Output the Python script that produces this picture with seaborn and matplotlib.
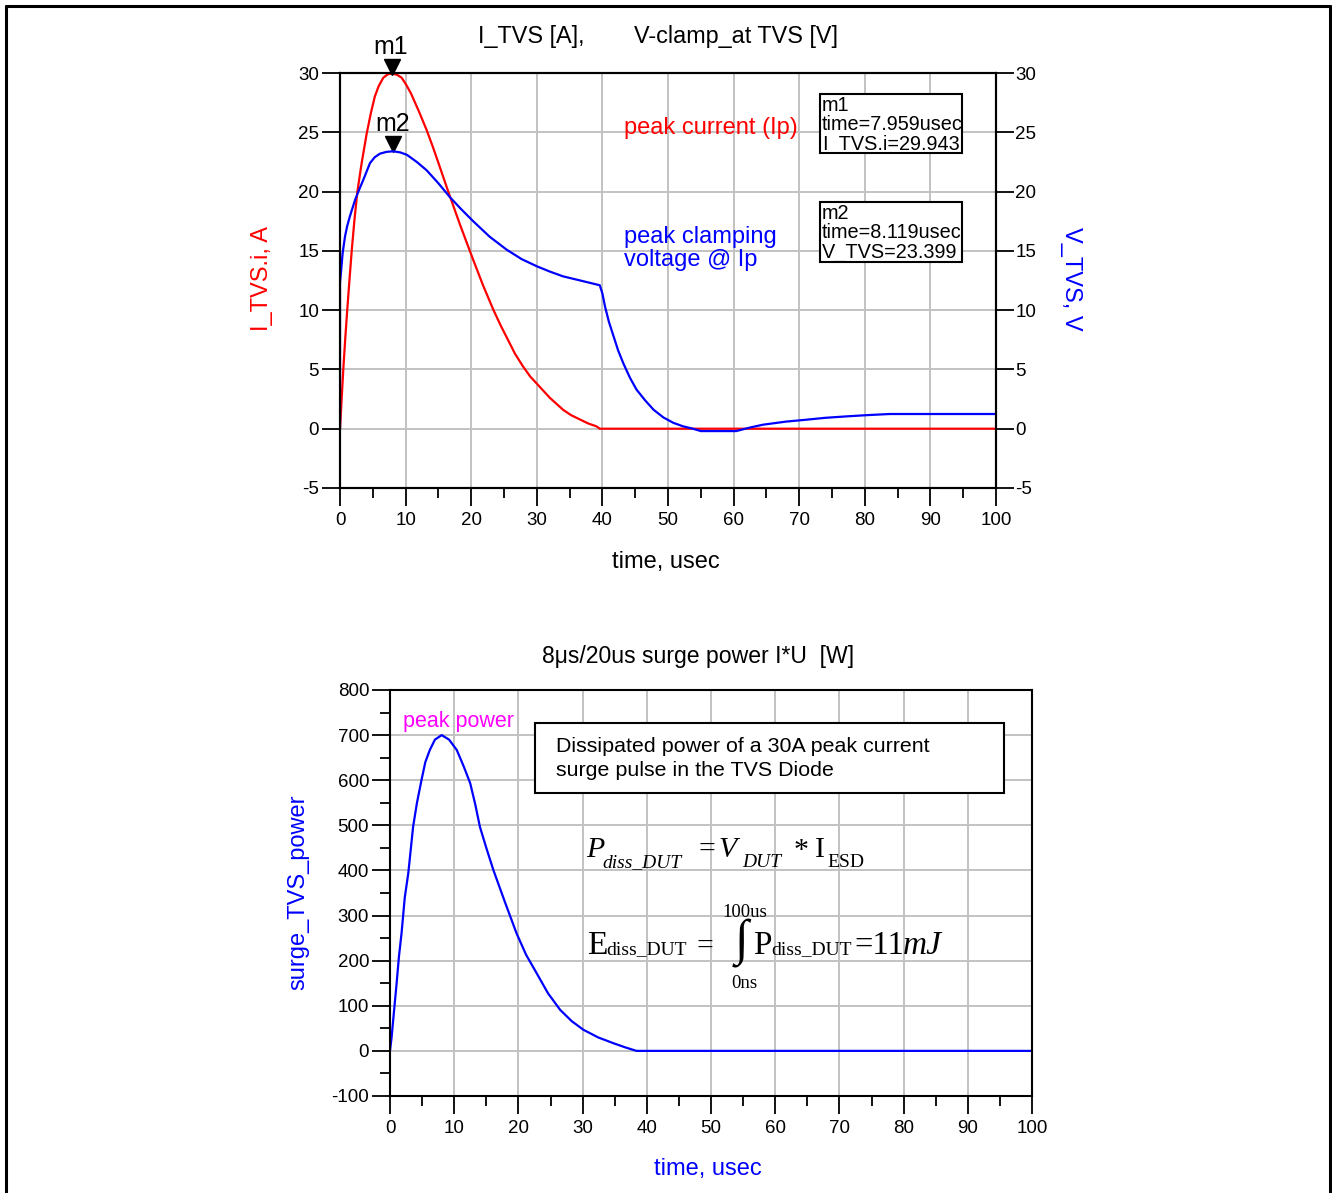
import pandas as pd
import seaborn as sns
import matplotlib.pyplot as plt
from matplotlib.patches import Rectangle
from matplotlib.lines import Line2D
from matplotlib.ticker import MultipleLocator
from matplotlib.transforms import offset_copy

# Current through the TVS diode (A)
t_current = [0, 0.25, 0.5, 0.8, 1.1, 1.45, 1.8, 2.2, 2.65, 3.3, 4.07, 4.7, 5.3, 5.9, 6.6,
             7.3, 7.959, 8.7, 9.4, 10.1, 10.8, 12.0, 13.2, 14.2, 15.2, 16.5, 18.3, 20.3,
             21.8, 23.4, 24.5, 25.6, 26.7, 27.9, 29.0, 30.0, 31.0, 32.0, 33.0, 34.0, 35.2,
             36.5, 37.8, 39.1, 39.6, 100]
current = [0, 2.5, 5.0, 7.6, 10.0, 12.6, 15.1, 17.6, 20.0, 22.4, 24.9, 26.6, 28.0, 28.9, 29.6,
           29.9, 29.943, 29.85, 29.6, 29.0, 28.3, 26.8, 25.2, 23.7, 22.1, 20.0, 17.2, 14.25,
           12.1, 10.0, 8.7, 7.5, 6.3, 5.25, 4.4, 3.8, 3.2, 2.6, 2.1, 1.6, 1.15,
           0.8, 0.45, 0.2, 0, 0]

# Clamping voltage across the TVS diode (V)
t_voltage = [0, 0, 0.15, 0.4, 0.76, 1.1, 1.5, 1.9, 2.3, 2.8, 3.56, 4.57, 5.3, 6.1, 7.1, 8.119,
             9.2, 10.2, 11.7, 13.2, 15.0, 16.8, 18.5, 20.3, 22.8, 25.4, 27.7, 30.0, 32.0,
             34.0, 37.0, 39.6, 40.0, 40.4, 41.0, 41.7, 42.4, 43.2, 44.2, 45.2, 46.5, 47.8,
             49.3, 50.8, 52.3, 53.8, 55.0, 60.4, 62.5, 64.5, 68.0, 71.1, 74.0, 77.2, 80.5,
             83.8, 100]
voltage = [0, 12.3, 13.2, 14.8, 16.2, 17.1, 17.9, 18.6, 19.3, 20.0, 21.0, 22.4, 22.9, 23.2, 23.35, 23.399,
           23.3, 23.1, 22.5, 21.8, 20.7, 19.5, 18.5, 17.5, 16.2, 15.1, 14.3, 13.7, 13.25,
           12.85, 12.45, 12.1, 11.4, 10.3, 9.0, 7.8, 6.6, 5.5, 4.3, 3.3, 2.4, 1.6,
           0.95, 0.5, 0.2, 0.0, -0.2, -0.2, 0.1, 0.34, 0.6, 0.76, 0.92, 1.04, 1.15,
           1.24, 1.24]

# Surge power I*U (W)
t_power = [0, 0.25, 0.5, 1.0, 1.4, 1.8, 2.3, 2.85, 3.6, 4.2, 4.9, 5.5, 6.2, 7.0, 8.05, 9.2,
           10.4, 11.5, 12.5, 13.3, 14.0, 15.0, 16.1, 17.9, 19.7, 21.2, 22.85, 24.6, 26.5,
           28.3, 30.1, 32.4, 34.8, 36.6, 38.4, 100]
power = [0, 30, 69, 145, 210, 261, 340, 394, 497, 550, 600, 640, 667, 690, 700, 690,
         667, 630, 593, 545, 497, 450, 401, 330, 261, 213, 172, 128, 91,
         66, 47, 30, 17, 8, 0, 0]

# marker readouts
m1_time, m1_value = 7.959, 29.943
m2_time, m2_value = 8.119, 23.399

df_i = pd.DataFrame({"time": t_current, "I_TVS.i": current})
df_v = pd.DataFrame({"time": t_voltage, "V_TVS": voltage})
df_p = pd.DataFrame({"time": t_power, "surge_TVS_power": power})

sns.set_style("white")
plt.rcParams['font.family'] = ['Liberation Sans', 'DejaVu Sans']
plt.rcParams['text.color'] = 'black'
plt.rcParams['axes.labelcolor'] = 'black'
plt.rcParams['axes.unicode_minus'] = False

W, H = 1332, 1193
fig = plt.figure(figsize=(W / 100, H / 100), dpi=100)


def ftext(x, y, s, **kw):
    # place text by pixel position of the reference image
    return fig.text(x / W, 1 - y / H, s, **kw)


def style_axis(ax):
    for s in ax.spines.values():
        s.set_visible(True)
        s.set_color('black')
        s.set_linewidth(1.5)
    ax.tick_params(which='major', direction='out', length=13, width=1.3,
                   color='black', labelsize=13.5, labelcolor='black', pad=2)
    ax.tick_params(which='minor', direction='out', length=7, width=1.3, color='black')


grid_kw = dict(color='#c2c2c2', linewidth=1.4)

# ---------------- top chart: current and voltage ----------------
ax1 = fig.add_axes([340 / W, 1 - 488 / H, 656 / W, 415 / H])
ax2 = ax1.twinx()

sns.lineplot(data=df_i, x="time", y="I_TVS.i", ax=ax1, color='red', linewidth=1.6,
             sort=False, estimator=None)
sns.lineplot(data=df_v, x="time", y="V_TVS", ax=ax2, color='blue', linewidth=1.6,
             sort=False, estimator=None)

for ax in (ax1, ax2):
    ax.set_xlim(0, 100)
    ax.set_ylim(-5, 30)
    ax.set_yticks(range(-5, 31, 5))
    style_axis(ax)
ax1.set_xticks(range(0, 101, 10))
ax1.xaxis.set_minor_locator(MultipleLocator(5))
ax1.tick_params(axis='x', which='both', bottom=True, top=False, pad=4)
ax1.tick_params(axis='y', left=True, right=False)
ax2.tick_params(axis='y', right=True, left=False, pad=1)
ax1.grid(True, which='major', **grid_kw)
ax1.set_axisbelow(True)

ax1.set_xlabel('time, usec', fontsize=17)
ax1.xaxis.label.set_va('center')
ax1.xaxis.set_label_coords(0.497, -0.178)
ax1.set_ylabel('I_TVS.i, A', fontsize=17, color='red')
ax1.yaxis.label.set_va('center')
ax1.yaxis.set_label_coords(-0.119, 0.505)
ax2.set_ylabel('V_TVS, V', fontsize=17, color='blue', rotation=270)
ax2.yaxis.label.set_va('center')
ax2.yaxis.set_label_coords(1.114, 0.505)

ftext(478, 37, 'I_TVS [A],', fontsize=16.8, va='center')
ftext(634, 37, 'V-clamp_at TVS [V]', fontsize=16.8, va='center')

ax1.text(43.3, 25.4, 'peak current (Ip)', color='red', fontsize=17, va='center')
ax1.text(43.3, 16.2, 'peak clamping', color='blue', fontsize=17, va='center')
ax1.text(43.3, 14.2, 'voltage @ Ip', color='blue', fontsize=17, va='center')

# markers m1 / m2
tri = offset_copy(ax1.transData, fig=fig, y=7, units='dots')
ax1.plot([m1_time], [m1_value], marker='v', ms=11, color='black', ls='none',
         transform=tri, clip_on=False, zorder=5)
ax1.plot([m2_time], [m2_value], marker='v', ms=11, color='black', ls='none',
         transform=tri, clip_on=False, zorder=5)
ftext(391, 47, 'm1', fontsize=18, ha='center', va='center')
ftext(393, 124, 'm2', fontsize=18, ha='center', va='center')

for label, y0, y1, name, tval, yval in [
        ('m1', 94, 153, 'I_TVS.i', m1_time, m1_value),
        ('m2', 202, 262, 'V_TVS', m2_time, m2_value)]:
    bx0 = (820 - 340) / 6.56
    bx1 = (962 - 340) / 6.56
    by1 = (429 - y0) / 11.86
    by0 = (429 - y1) / 11.86
    rect = Rectangle((bx0, by0), bx1 - bx0, by1 - by0, facecolor='white',
                     edgecolor='black', linewidth=1.5, zorder=6)
    ax2.add_patch(rect)
    t = ax2.text(bx0 + 0.25, by1 - 0.15,
                 f'{label}\ntime={tval:.3f}usec\n{name}={yval:.3f}',
                 fontsize=14.3, va='top', ha='left', linespacing=1.03,
                 zorder=7, clip_on=True)
    t.set_clip_path(rect)

# ---------------- bottom chart: power ----------------
ax3 = fig.add_axes([390 / W, 1 - 1096 / H, 642 / W, 406 / H])
sns.lineplot(data=df_p, x="time", y="surge_TVS_power", ax=ax3, color='blue',
             linewidth=1.6, sort=False, estimator=None)
ax3.set_xlim(0, 100)
ax3.set_ylim(-100, 800)
ax3.set_xticks(range(0, 101, 10))
ax3.set_yticks(range(-100, 801, 100))
ax3.xaxis.set_minor_locator(MultipleLocator(5))
ax3.yaxis.set_minor_locator(MultipleLocator(50))
style_axis(ax3)
ax3.tick_params(axis='x', which='both', bottom=True, top=False, pad=4)
ax3.tick_params(axis='y', which='both', left=True, right=False)
ax3.grid(True, which='major', **grid_kw)
ax3.set_axisbelow(True)

ax3.set_xlabel('time, usec', fontsize=17, color='blue')
ax3.xaxis.label.set_va('center')
ax3.xaxis.set_label_coords(0.495, -0.18)
ax3.set_ylabel('surge_TVS_power', fontsize=17, color='blue')
ax3.yaxis.label.set_va('center')
ax3.yaxis.set_label_coords(-0.143, 0.502)

ftext(698, 656, '8μs/20us surge power I*U  [W]', fontsize=16.6, ha='center', va='center')
ax3.text(2.0, 731, 'peak power', color='#ff00ff', fontsize=15.5, va='center')

bx0, bx1 = (535 - 390) / 6.42, (1004 - 390) / 6.42
by0, by1 = (1051 - 793) / 0.45125, (1051 - 723) / 0.45125
ax3.add_patch(Rectangle((bx0, by0), bx1 - bx0, by1 - by0, facecolor='white',
                        edgecolor='black', linewidth=1.5, zorder=6))
ftext(556, 747, 'Dissipated power of a 30A peak current', fontsize=15.4, va='center', zorder=7)
ftext(556, 771, 'surge pulse in the TVS Diode', fontsize=15.4, va='center', zorder=7)

# formulas (serif)
serif = ['Liberation Serif', 'DejaVu Serif']
big, small = 21.5, 14
ftext(586, 857, 'P', family=serif, style='italic', fontsize=big, va='baseline')
ftext(602, 867, 'diss_DUT', family=serif, style='italic', fontsize=small, va='baseline')
ftext(699, 857, '=', family=serif, fontsize=big, va='baseline')
ftext(718, 857, 'V', family=serif, style='italic', fontsize=big, va='baseline')
ftext(742, 867, 'DUT', family=serif, style='italic', fontsize=small, va='baseline')
ftext(794, 858, '*', family=serif, fontsize=big, va='baseline')
ftext(815, 857, 'I', family=serif, fontsize=big, va='baseline')
ftext(827, 867, 'ESD', family=serif, fontsize=small, va='baseline')

ftext(587, 954, 'E', family=serif, fontsize=24, va='baseline')
ftext(606, 954, 'diss_DUT', family=serif, fontsize=small, va='baseline')
ftext(696, 954, '=', family=serif, fontsize=big, va='baseline')
ftext(741, 944, '∫', family=serif, fontsize=36, ha='center', va='center')
ftext(745, 917, '100us', family=serif, fontsize=13.5, ha='center', va='baseline')
ftext(744, 988, '0ns', family=serif, fontsize=13.5, ha='center', va='baseline')
ftext(753, 954, 'P', family=serif, fontsize=24, va='baseline')
ftext(771, 954, 'diss_DUT', family=serif, fontsize=small, va='baseline')
ftext(854, 954, '=11', family=serif, fontsize=23.5, va='baseline')
ftext(903, 954, 'mJ', family=serif, style='italic', fontsize=24, va='baseline')

# outer frame
for xs, ys in [([6, 6], [H, 6]), ([6, 1330], [6, 6]), ([1330, 1330], [6, H])]:
    fig.add_artist(Line2D([x / W for x in xs], [1 - y / H for y in ys],
                          color='black', linewidth=2.2))

fig.savefig('out.png', dpi=100)
